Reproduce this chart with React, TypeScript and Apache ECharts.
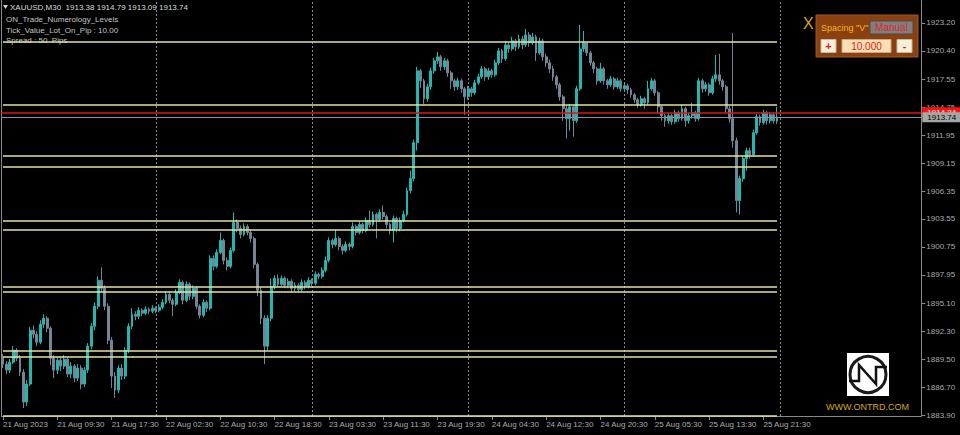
import React, { useEffect, useRef } from "react";
import * as echarts from "echarts";

// ---- Data ----
const symbolInfo = "XAUUSD,M30  1913.38 1914.79 1913.09 1913.74";
const indicatorLines = ["ON_Trade_Numerology_Levels", "Tick_Value_Lot_On_Pip : 10.00", "Spread : 50  Pips"];

const timeLabels = [
  "21 Aug 2023", "21 Aug 09:30", "21 Aug 17:30", "22 Aug 02:30", "22 Aug 10:30",
  "22 Aug 18:30", "23 Aug 03:30", "23 Aug 11:30", "23 Aug 19:30", "24 Aug 04:30",
  "24 Aug 12:30", "24 Aug 20:30", "25 Aug 05:30", "25 Aug 13:30", "25 Aug 21:30",
];
const barsPerLabel = 16;
const totalSlots = 271; // bars + chart shift space

const priceTicks = [
  1883.9, 1886.7, 1889.5, 1892.3, 1895.1, 1897.95, 1900.75, 1903.55,
  1906.35, 1909.15, 1911.95, 1914.75, 1917.55, 1920.4, 1923.2,
];

const numerologyLevels = [1921.3, 1915.0, 1909.9, 1908.75, 1903.4, 1902.5, 1896.8, 1896.25, 1890.3, 1889.7, 1883.85];
const bidPrice = 1913.74;
const askPrice = 1914.24;

// [open, close, low, high]
const candles: number[][] = [
  [1889.6, 1889.0, 1888.6, 1890.0], [1889.0, 1888.4, 1888.0, 1889.3], [1888.4, 1889.2, 1888.1, 1889.5], [1889.2, 1890.4, 1889.0, 1890.8],
  [1890.4, 1889.6, 1889.3, 1890.6], [1889.6, 1888.2, 1887.8, 1889.9], [1888.2, 1885.2, 1884.6, 1888.5], [1885.2, 1887.0, 1884.8, 1887.4],
  [1887.0, 1892.4, 1886.8, 1892.7], [1892.4, 1892.0, 1891.6, 1892.9], [1892.0, 1891.2, 1890.8, 1892.3], [1891.2, 1893.0, 1891.0, 1893.4],
  [1893.0, 1893.6, 1892.6, 1894.0], [1893.6, 1892.6, 1892.2, 1893.8], [1892.6, 1889.6, 1888.9, 1892.8], [1889.6, 1888.4, 1887.6, 1889.9],
  [1888.4, 1889.4, 1888.0, 1889.7], [1889.4, 1888.8, 1888.3, 1889.8], [1888.8, 1889.5, 1888.5, 1889.9], [1889.5, 1888.0, 1887.7, 1889.7],
  [1888.0, 1888.8, 1887.6, 1889.2], [1888.8, 1887.6, 1887.2, 1889.0], [1887.6, 1888.6, 1887.3, 1889.0], [1888.6, 1887.0, 1886.5, 1888.9],
  [1887.0, 1888.4, 1886.7, 1888.7], [1888.4, 1890.8, 1888.1, 1891.1], [1890.8, 1892.8, 1890.5, 1893.1], [1892.8, 1894.8, 1892.4, 1895.2],
  [1894.8, 1897.4, 1894.5, 1897.8], [1897.4, 1896.6, 1896.2, 1898.7], [1896.6, 1894.8, 1894.4, 1896.9], [1894.8, 1891.4, 1891.0, 1895.1],
  [1891.4, 1887.8, 1886.6, 1891.7], [1887.8, 1886.4, 1885.6, 1888.2], [1886.4, 1888.6, 1886.1, 1888.9], [1888.6, 1887.8, 1887.4, 1889.0],
  [1887.8, 1890.4, 1887.5, 1890.7], [1890.4, 1892.8, 1890.1, 1893.1], [1892.8, 1894.0, 1892.5, 1894.6], [1894.0, 1893.8, 1893.4, 1894.3],
  [1893.8, 1894.4, 1893.5, 1894.7], [1894.4, 1894.1, 1893.8, 1894.6], [1894.1, 1894.5, 1893.9, 1894.8], [1894.5, 1894.3, 1894.0, 1894.7],
  [1894.3, 1894.6, 1894.1, 1894.9], [1894.6, 1894.4, 1894.1, 1894.8], [1894.4, 1894.7, 1894.2, 1895.0], [1894.7, 1895.2, 1894.5, 1895.5],
  [1895.2, 1896.0, 1895.0, 1896.3], [1896.0, 1895.4, 1895.1, 1896.2], [1895.4, 1895.0, 1893.8, 1895.6], [1895.0, 1896.2, 1894.8, 1896.5],
  [1896.2, 1897.2, 1896.0, 1897.5], [1897.2, 1895.4, 1895.0, 1897.4], [1895.4, 1897.0, 1895.2, 1897.3], [1897.0, 1895.8, 1895.4, 1897.2],
  [1895.8, 1896.6, 1895.5, 1896.9], [1896.6, 1894.8, 1894.5, 1896.8], [1894.8, 1893.9, 1893.6, 1895.0], [1893.9, 1895.2, 1893.7, 1895.5],
  [1895.2, 1894.6, 1894.2, 1895.4], [1894.6, 1899.6, 1894.4, 1899.9], [1899.6, 1898.8, 1898.4, 1899.9], [1898.8, 1900.2, 1898.6, 1900.5],
  [1900.2, 1901.4, 1900.0, 1902.2], [1901.4, 1899.4, 1899.0, 1901.6], [1899.4, 1898.8, 1898.4, 1899.7], [1898.8, 1900.4, 1898.6, 1900.7],
  [1900.4, 1903.2, 1900.2, 1904.2], [1903.2, 1902.6, 1902.2, 1903.5], [1902.6, 1902.0, 1901.6, 1902.9], [1902.0, 1902.8, 1901.8, 1903.1],
  [1902.8, 1902.2, 1901.9, 1903.0], [1902.2, 1901.6, 1901.2, 1902.5], [1901.6, 1899.0, 1898.6, 1901.8], [1899.0, 1896.4, 1895.8, 1899.2],
  [1896.4, 1893.6, 1893.0, 1896.7], [1893.6, 1890.8, 1889.0, 1893.9], [1890.8, 1893.6, 1890.4, 1893.9], [1893.6, 1896.8, 1893.3, 1897.6],
  [1896.8, 1897.6, 1896.5, 1897.9], [1897.6, 1897.0, 1896.7, 1898.0], [1897.0, 1897.6, 1896.8, 1897.9], [1897.6, 1896.9, 1896.6, 1897.8],
  [1896.9, 1897.3, 1896.6, 1897.6], [1897.3, 1896.6, 1896.2, 1897.5], [1896.6, 1896.9, 1896.3, 1897.2], [1896.9, 1896.5, 1896.2, 1897.1],
  [1896.5, 1897.2, 1896.3, 1897.5], [1897.2, 1896.8, 1896.5, 1897.4], [1896.8, 1897.4, 1896.6, 1897.7], [1897.4, 1897.1, 1896.8, 1897.6],
  [1897.1, 1898.0, 1896.9, 1898.3], [1898.0, 1897.8, 1897.5, 1898.2], [1897.8, 1898.4, 1897.6, 1898.7], [1898.4, 1899.4, 1898.2, 1899.8],
  [1899.4, 1901.4, 1899.2, 1901.7], [1901.4, 1901.0, 1900.6, 1901.6], [1901.0, 1901.6, 1900.8, 1902.5], [1901.6, 1900.8, 1900.4, 1901.8],
  [1900.8, 1900.4, 1900.0, 1901.0], [1900.4, 1901.0, 1900.2, 1901.3], [1901.0, 1900.8, 1900.4, 1901.2], [1900.8, 1902.8, 1900.6, 1903.2],
  [1902.8, 1902.2, 1901.9, 1903.0], [1902.2, 1903.0, 1902.0, 1903.3], [1903.0, 1902.4, 1902.1, 1903.2], [1902.4, 1903.4, 1902.2, 1903.7],
  [1903.4, 1903.0, 1902.7, 1904.4], [1903.0, 1904.0, 1902.8, 1904.3], [1904.0, 1903.5, 1901.6, 1904.2], [1903.5, 1904.2, 1903.3, 1904.5],
  [1904.2, 1903.8, 1903.5, 1904.9], [1903.8, 1903.0, 1902.6, 1904.0], [1903.0, 1902.4, 1902.0, 1903.2], [1902.4, 1903.6, 1901.2, 1903.9],
  [1903.6, 1902.6, 1902.2, 1903.8], [1902.6, 1903.4, 1902.3, 1903.7], [1903.4, 1904.0, 1903.2, 1904.4], [1904.0, 1906.4, 1903.8, 1906.7],
  [1906.4, 1907.6, 1906.1, 1908.4], [1907.6, 1911.2, 1907.3, 1911.5], [1911.2, 1918.4, 1910.4, 1918.8], [1918.4, 1917.4, 1916.7, 1918.6],
  [1917.4, 1915.6, 1915.1, 1917.6], [1915.6, 1916.8, 1915.3, 1917.1], [1916.8, 1918.4, 1916.5, 1918.7], [1918.4, 1919.4, 1918.1, 1919.7],
  [1919.4, 1919.8, 1919.1, 1920.3], [1919.8, 1918.8, 1918.4, 1920.0], [1918.8, 1919.4, 1918.5, 1919.7], [1919.4, 1918.2, 1917.8, 1919.6],
  [1918.2, 1917.4, 1916.6, 1918.4], [1917.4, 1916.8, 1916.4, 1917.6], [1916.8, 1917.4, 1916.5, 1917.7], [1917.4, 1916.6, 1916.2, 1917.6],
  [1916.6, 1915.8, 1914.0, 1916.8], [1915.8, 1916.6, 1915.5, 1916.9], [1916.6, 1916.2, 1915.8, 1916.8], [1916.2, 1917.2, 1916.0, 1917.5],
  [1917.2, 1917.8, 1917.0, 1918.1], [1917.8, 1918.6, 1917.6, 1918.9], [1918.6, 1917.8, 1917.4, 1918.8], [1917.8, 1918.4, 1917.5, 1918.7],
  [1918.4, 1918.0, 1917.7, 1918.6], [1918.0, 1919.2, 1917.8, 1919.5], [1919.2, 1920.4, 1919.0, 1920.7], [1920.4, 1919.6, 1919.2, 1920.6],
  [1919.6, 1921.0, 1919.4, 1921.4], [1921.0, 1920.6, 1920.2, 1921.3], [1920.6, 1921.4, 1920.4, 1921.8], [1921.4, 1920.8, 1920.4, 1921.6],
  [1920.8, 1921.6, 1920.6, 1922.0], [1921.6, 1921.0, 1920.6, 1921.9], [1921.0, 1922.0, 1920.8, 1922.6], [1922.0, 1921.2, 1920.8, 1922.3],
  [1921.2, 1921.8, 1921.0, 1922.2], [1921.8, 1920.2, 1919.4, 1922.0], [1920.2, 1921.4, 1920.0, 1921.7], [1921.4, 1919.8, 1919.4, 1921.6],
  [1919.8, 1919.2, 1918.8, 1920.1], [1919.2, 1918.6, 1918.2, 1919.5], [1918.6, 1917.8, 1917.4, 1918.9], [1917.8, 1917.0, 1916.6, 1918.0],
  [1917.0, 1915.8, 1915.4, 1917.2], [1915.8, 1914.6, 1913.4, 1916.0], [1914.6, 1913.6, 1911.6, 1914.9], [1913.6, 1914.8, 1912.4, 1915.1],
  [1914.8, 1913.4, 1911.8, 1915.0], [1913.4, 1916.6, 1913.2, 1916.9], [1916.6, 1920.6, 1916.4, 1923.0], [1920.6, 1921.2, 1920.3, 1922.4],
  [1921.2, 1920.2, 1919.9, 1921.3], [1920.2, 1919.2, 1918.9, 1920.4], [1919.2, 1918.6, 1918.2, 1919.4], [1918.6, 1917.4, 1917.0, 1918.8],
  [1917.4, 1918.6, 1917.2, 1919.2], [1918.6, 1917.4, 1917.0, 1918.8], [1917.4, 1917.0, 1916.6, 1917.6], [1917.0, 1917.6, 1916.8, 1917.9],
  [1917.6, 1916.8, 1916.5, 1917.8], [1916.8, 1917.4, 1916.6, 1917.7], [1917.4, 1916.6, 1916.3, 1917.6], [1916.6, 1916.9, 1916.3, 1917.2],
  [1916.9, 1916.5, 1916.1, 1917.1], [1916.5, 1916.0, 1915.7, 1916.7], [1916.0, 1915.5, 1915.2, 1916.2], [1915.5, 1915.0, 1914.7, 1915.7],
  [1915.0, 1915.6, 1914.8, 1915.9], [1915.6, 1915.2, 1914.6, 1915.8], [1915.2, 1916.6, 1915.0, 1917.4], [1916.6, 1917.4, 1916.4, 1917.7],
  [1917.4, 1916.2, 1915.9, 1917.6], [1916.2, 1914.8, 1914.1, 1916.4], [1914.8, 1913.9, 1913.4, 1915.0], [1913.9, 1913.4, 1912.8, 1914.1],
  [1913.4, 1913.9, 1913.1, 1914.2], [1913.9, 1913.3, 1913.0, 1914.1], [1913.3, 1914.2, 1913.1, 1914.5], [1914.2, 1913.6, 1913.3, 1914.4],
  [1913.6, 1914.6, 1913.4, 1915.0], [1914.6, 1913.4, 1912.8, 1914.8], [1913.4, 1913.9, 1913.1, 1914.2], [1913.9, 1914.2, 1913.6, 1915.2],
  [1914.2, 1913.6, 1913.3, 1914.4], [1913.6, 1917.4, 1913.4, 1917.7], [1917.4, 1916.6, 1916.2, 1917.6], [1916.6, 1917.0, 1916.3, 1917.3],
  [1917.0, 1916.2, 1915.9, 1917.2], [1916.2, 1917.6, 1916.0, 1917.9], [1917.6, 1918.0, 1917.3, 1920.0], [1918.0, 1917.4, 1917.0, 1920.1],
  [1917.4, 1916.8, 1916.4, 1917.6], [1916.8, 1914.6, 1914.2, 1917.0], [1914.6, 1913.6, 1913.2, 1914.9], [1913.6, 1911.4, 1910.7, 1922.2],
  [1911.4, 1905.4, 1904.2, 1911.7], [1905.4, 1907.6, 1904.0, 1907.9], [1907.6, 1909.6, 1907.3, 1909.9], [1909.6, 1910.4, 1908.4, 1910.7],
  [1910.4, 1910.0, 1909.6, 1910.7], [1910.0, 1912.2, 1909.8, 1912.5], [1912.2, 1913.8, 1912.0, 1914.1], [1913.8, 1913.2, 1912.9, 1914.0],
  [1913.2, 1914.2, 1913.0, 1914.5], [1914.2, 1913.4, 1913.0, 1914.4], [1913.4, 1914.0, 1913.1, 1914.3], [1914.0, 1913.38, 1913.1, 1914.2],
  [1913.38, 1913.74, 1913.09, 1914.79],
];

const FONT = "Liberation Sans";

export default function App() {
  const ref = useRef<HTMLDivElement>(null);

  useEffect(() => {
    if (!ref.current) return;
    const chart = echarts.init(ref.current, null, { renderer: "svg" });

    const categories = Array.from({ length: totalSlots }, (_, i) => String(i));
    const lastBar = candles.length - 1;
    const labelAt = (i: number) => i % barsPerLabel === 0 && i / barsPerLabel < timeLabels.length;
    const gridBars: number[] = [];
    for (let i = 45; i < totalSlots; i += 46) gridBars.push(i);

    const option: any = {
      animation: false,
      backgroundColor: "#000000",
      textStyle: { fontFamily: FONT },
      grid: { left: 1, right: 38.7, top: 0, height: 416 },
      xAxis: {
        type: "category",
        data: categories,
        boundaryGap: true,
        axisLine: { show: true, lineStyle: { color: "#8a8a8a", width: 1 } },
        axisTick: {
          show: true,
          alignWithLabel: true,
          length: 4,
          interval: (i: number) => labelAt(i),
          lineStyle: { color: "#8a8a8a" },
        },
        axisLabel: {
          interval: (i: number) => labelAt(i),
          formatter: (_v: string, i: number) => (labelAt(i) ? timeLabels[i / barsPerLabel] : ""),
          align: "left",
          color: "#ababab",
          fontSize: 8,
          fontFamily: FONT,
          margin: 4,
        },
        splitLine: { show: false },
      },
      yAxis: [
        {
          type: "value",
          position: "right",
          min: 1883.8,
          max: 1925.5,
          axisLine: { show: true, lineStyle: { color: "#8a8a8a" } },
          axisTick: { show: true, length: 4, customValues: priceTicks, lineStyle: { color: "#8a8a8a" } },
          axisLabel: {
            customValues: priceTicks,
            formatter: (v: number) => v.toFixed(2),
            color: "#ababab",
            fontSize: 8,
            fontFamily: FONT,
            margin: 5,
          },
          splitLine: { show: false },
        },
        {
          type: "value",
          position: "left",
          min: 1883.8,
          max: 1925.5,
          axisLine: { show: true, lineStyle: { color: "#8a8a8a" } },
          axisTick: { show: false },
          axisLabel: { show: false },
          splitLine: { show: false },
        },
      ],
      series: [
        {
          type: "line",
          data: [],
          z: 1,
          markLine: {
            silent: true,
            symbol: ["none", "none"],
            z: 1,
            label: { show: false },
            lineStyle: { color: "#8c8c8c", type: [2, 2], width: 1 },
            data: gridBars.map((i) => ({ xAxis: i })),
          },
        },
        {
          type: "candlestick",
          data: candles,
          barWidth: 2.4,
          z: 3,
          itemStyle: {
            color: "#20b8b0",
            color0: "#748595",
            borderColor: "#20b8b0",
            borderColor0: "#748595",
            borderWidth: 1,
          },
          markLine: {
            silent: true,
            symbol: ["none", "none"],
            label: { show: false },
            data: [
              ...numerologyLevels.map((v) => [
                { coord: [0, v], lineStyle: { color: "#e4e0a6", width: 1.5, type: "solid" } },
                { coord: [lastBar, v] },
              ]),
              {
                yAxis: askPrice,
                lineStyle: { color: "#e01414", width: 1.5, type: "solid" },
                label: {
                  show: true,
                  position: "end",
                  distance: 1,
                  formatter: askPrice.toFixed(2),
                  backgroundColor: "#ff1010",
                  color: "#ffffff",
                  fontSize: 8,
                  fontFamily: FONT,
                  padding: [1, 5, 1, 5],
                },
              },
              {
                yAxis: bidPrice,
                lineStyle: { color: "#8793a6", width: 1, type: "solid" },
                label: {
                  show: true,
                  position: "end",
                  distance: 1,
                  formatter: bidPrice.toFixed(2),
                  backgroundColor: "#a6a6a6",
                  color: "#000000",
                  fontSize: 8,
                  fontFamily: FONT,
                  padding: [1, 5, 1, 5],
                },
              },
            ],
          },
        },
      ],
      graphic: [
        // header
        { type: "polygon", shape: { points: [[3, 5], [8, 5], [5.5, 9]] }, style: { fill: "#d0d0d0" } },
        { type: "text", x: 10, y: 7.5, style: { text: symbolInfo, fill: "#dcdcdc", font: `8px "${FONT}"`, textVerticalAlign: "middle" } },
        ...indicatorLines.map((t, k) => ({
          type: "text",
          x: 6,
          y: 19.5 + k * 10.7,
          style: { text: t, fill: "#c4c4c4", font: `8px "${FONT}"`, textVerticalAlign: "middle" },
        })),
        // control panel
        { type: "text", x: 803, y: 23, style: { text: "X", fill: "#d9a520", font: `16px "${FONT}"`, textVerticalAlign: "middle" } },
        { type: "rect", shape: { x: 816, y: 15, width: 102, height: 42 }, style: { fill: "#8b4010", stroke: "#a0582a", lineWidth: 1 } },
        { type: "text", x: 821, y: 28, style: { text: 'Spacing "V"', fill: "#f2b520", font: `9px "${FONT}"`, textVerticalAlign: "middle" } },
        { type: "rect", shape: { x: 870, y: 21, width: 43, height: 13 }, style: { fill: "#7f7f7f", stroke: "#4a4a4a", lineWidth: 1 } },
        { type: "text", x: 891.5, y: 27.5, style: { text: "Manual", fill: "#e02828", font: `10px "${FONT}"`, textAlign: "center", textVerticalAlign: "middle" } },
        { type: "rect", shape: { x: 821, y: 39.5, width: 15, height: 13 }, style: { fill: "#f5f0dc", stroke: "#c8b89a", lineWidth: 1 } },
        { type: "text", x: 828.5, y: 46, style: { text: "+", fill: "#e01818", font: `bold 11px "${FONT}"`, textAlign: "center", textVerticalAlign: "middle" } },
        { type: "rect", shape: { x: 842, y: 39.5, width: 49, height: 13 }, style: { fill: "#f8dfb6", stroke: "#c8a880", lineWidth: 1 } },
        { type: "text", x: 866.5, y: 46, style: { text: "10.000", fill: "#e01818", font: `10px "${FONT}"`, textAlign: "center", textVerticalAlign: "middle" } },
        { type: "rect", shape: { x: 897, y: 39.5, width: 15, height: 13 }, style: { fill: "#f5f0dc", stroke: "#c8b89a", lineWidth: 1 } },
        { type: "text", x: 904.5, y: 46, style: { text: "-", fill: "#e01818", font: `bold 11px "${FONT}"`, textAlign: "center", textVerticalAlign: "middle" } },
        // logo
        { type: "rect", shape: { x: 847, y: 353, width: 42, height: 43 }, style: { fill: "#ffffff" } },
        { type: "circle", shape: { cx: 868, cy: 374.5, r: 18 }, style: { fill: "none", stroke: "#1a1a1a", lineWidth: 3 } },
        {
          type: "polyline",
          shape: { points: [[849, 381], [859, 381], [859, 365], [876, 384], [876, 367], [887, 367]] },
          style: { fill: "none", stroke: "#111111", lineWidth: 2.5 },
        },
        { type: "text", x: 867.5, y: 406.5, style: { text: "WWW.ONTRD.COM", fill: "#d6a815", font: `9px "${FONT}"`, textAlign: "center", textVerticalAlign: "middle" } },
      ],
    };

    chart.setOption(option);
    return () => chart.dispose();
  }, []);

  return (
    <div
      ref={ref}
      style={{ position: "fixed", left: 0, top: 0, width: 960, height: 435, background: "#000" }}
    />
  );
}
